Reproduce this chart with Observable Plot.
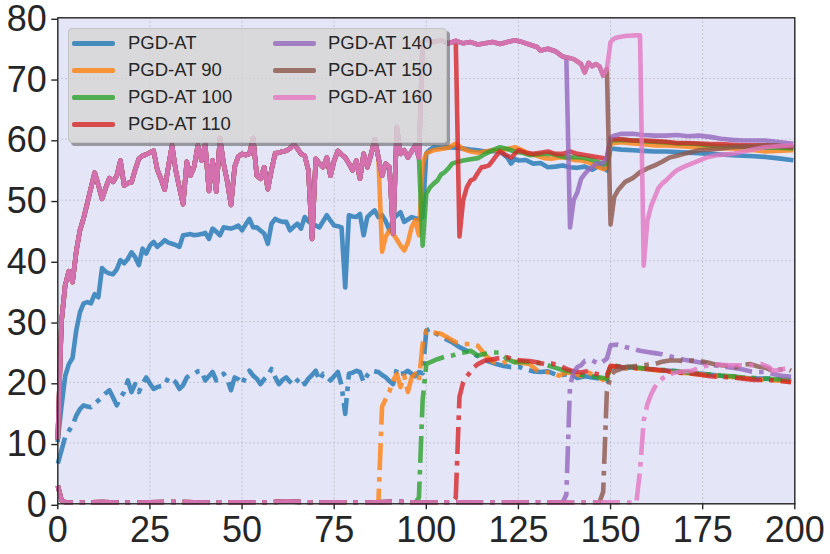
<!DOCTYPE html>
<html>
<head>
<meta charset="utf-8">
<script src="https://cdn.jsdelivr.net/npm/d3@7"></script>
<script src="https://cdn.jsdelivr.net/npm/@observablehq/plot@0.6"></script>
<style>
  body { margin: 0; background: #fff; }
  #wrap { position: relative; width: 830px; height: 554px; font-family: "Liberation Sans", Arial, sans-serif; }
  #legend { position: absolute; left: 68px; top: 28px; width: 379px; height: 115px; box-sizing: border-box;
    background: rgba(214,214,214,0.82); border: 1px solid #c4c4c4; border-radius: 4px;
    box-shadow: 3px 3px 0 rgba(90,90,90,0.55); }
  .handle { width: 43px; height: 5px; border-radius: 2px; opacity: 0.8; }
  .lab { position: absolute; font-size: 18.5px; color: #262626; white-space: nowrap; }
</style>
</head>
<body>
<div id="wrap"><div id="chart"></div><div id="legend"></div></div>
<script>
// ---------- data ----------
const names = ["PGD-AT", "PGD-AT 90", "PGD-AT 100", "PGD-AT 110", "PGD-AT 140", "PGD-AT 150", "PGD-AT 160"];
const colors = ["#1f77b4", "#ff7f0e", "#2ca02c", "#d62728", "#9467bd", "#8c564b", "#e377c2"];
const xTicks = [0, 25, 50, 75, 100, 125, 150, 175, 200];
const yTicks = [0, 10, 20, 30, 40, 50, 60, 70, 80];

// PGD-AT (baseline), clean accuracy, epochs 0..99 (dense)
const baseAccEarly = [
  10.5, 16.0, 21.0, 23.0, 24.0, 28.5, 31.5, 33.0, 33.2, 33.0,
  34.5, 34.0, 38.8, 38.2, 37.9, 37.8, 38.6, 40.1, 39.6, 40.3,
  41.4, 40.6, 39.3, 42.0, 41.2, 42.5, 43.1, 42.3, 42.8, 43.4,
  43.0, 42.8, 42.6, 42.3, 44.2, 44.3, 44.4, 44.2, 44.3, 44.4,
  44.6, 43.6, 45.3, 44.8, 44.2, 45.5, 45.4, 45.3, 45.5, 45.8,
  45.0, 46.0, 46.9, 45.5, 45.5, 45.0, 44.5, 42.8, 46.1, 46.9,
  46.6, 46.4, 46.4, 45.0, 45.6, 46.1, 45.3, 47.2, 46.5, 46.1,
  45.8, 45.5, 46.5, 47.5, 46.6, 45.8, 45.7, 45.5, 35.6, 47.5,
  47.3, 47.2, 47.7, 44.2, 47.2, 47.8, 48.3, 47.2, 47.5, 46.5,
  45.0, 46.9, 47.5, 48.0, 46.4, 46.8, 47.2, 47.0, 46.9, 47.2];
const baseAccLateX = [100,101,102,104,106,108,110,112,114,116,118,120,121,122,123,124,125,127,129,131,133,135,137,139,141,143,145,147,149,150,153,156,159,162,165,168,171,174,177,180,183,186,189,192,195,199];
const baseAccLateY = [57.7,58.3,58.7,58.6,58.7,58.6,58.5,58.3,58.2,58.0,58.1,58.0,57.5,57.0,56.0,56.8,56.5,56.6,56.0,56.1,55.4,55.5,55.7,55.4,55.3,55.5,55.0,55.7,54.9,58.5,58.3,58.2,58.1,58.0,58.0,57.9,57.8,57.7,57.6,57.5,57.4,57.3,57.2,57.1,56.9,56.6];

// PGD-AT (baseline), robust accuracy, epochs 0..99 (dense)
const baseRobEarly = [
  6.6, 8.8, 11.0, 12.0, 12.9, 14.5, 15.6, 16.2, 16.0, 15.9,
  16.5, 17.0, 17.6, 18.2, 18.7, 17.5, 16.2, 17.5, 18.4, 20.3,
  18.4, 19.7, 18.4, 19.8, 20.8, 19.8, 18.9, 19.2, 19.4, 19.5,
  20.8, 20.5, 20.0, 18.9, 19.5, 20.8, 21.2, 21.4, 21.8, 21.9,
  20.3, 21.0, 21.7, 20.3, 20.9, 21.4, 20.5, 18.7, 20.8, 20.5,
  19.7, 21.0, 21.9, 21.1, 20.6, 19.7, 20.5, 21.1, 22.2, 20.8,
  19.7, 20.4, 20.8, 20.1, 19.5, 20.3, 20.8, 19.7, 20.6, 21.2,
  21.9, 20.3, 21.4, 20.9, 20.3, 21.0, 21.7, 19.5, 14.8, 21.4,
  21.6, 21.9, 21.7, 20.0, 21.2, 21.9, 21.8, 21.7, 21.2, 20.8,
  20.2, 19.7, 22.2, 21.4, 21.5, 21.9, 21.4, 21.0, 21.7, 21.5];
const baseRobLateX = [100,101,102,103,104,105,107,109,111,113,115,117,119,121,123,125,127,129,131,133,135,137,139,141,143,145,147,149,150,152,154,156,158,160,163,166,169,172,175,178,181,184,187,190,193,196,199];
const baseRobLateY = [28.5,28.8,28.2,27.9,27.6,27.2,26.6,25.8,25.2,24.6,24.0,23.4,23.0,22.7,22.5,22.6,22.1,21.8,21.7,21.8,21.3,21.2,21.4,20.7,21.0,20.8,20.6,20.3,22.4,22.6,22.3,22.5,22.2,22.3,22.0,21.9,21.8,21.5,21.4,21.2,21.0,20.9,20.7,20.6,20.6,20.5,20.3];

// Shared run (before each restart), clean accuracy: epochs 0..98 dense, then plateau
const sharedAccEarly = [
  11.0, 30.0, 36.0, 38.3, 36.5, 41.5, 45.0, 47.0, 49.5, 52.0,
  54.5, 52.5, 50.2, 52.0, 53.6, 53.0, 54.0, 56.5, 52.4, 52.8,
  52.9, 55.0, 56.8, 57.3, 57.5, 57.8, 58.1, 55.0, 53.5, 51.7,
  55.5, 59.0, 54.9, 52.0, 49.3, 56.3, 54.0, 55.5, 59.0, 56.5,
  59.2, 51.5, 56.5, 51.4, 60.2, 56.0, 53.0, 49.2, 55.5, 57.2,
  57.6, 57.4, 57.6, 60.2, 54.0, 53.5, 55.4, 51.8, 55.0, 57.7,
  57.8, 58.0, 58.1, 58.5, 59.2, 58.5, 57.6, 57.3, 54.9, 43.6,
  56.8, 56.0, 55.4, 57.0, 54.0, 56.5, 58.1, 57.5, 57.0, 56.0,
  54.9, 56.5, 53.5, 57.6, 55.4, 57.5, 60.0, 57.0, 54.0, 56.0,
  55.4, 44.5, 62.0, 57.6, 58.2, 57.0, 58.0, 59.0, 57.0];
const sharedAccLateX = [99,100,102,104,106,108,110,112,114,116,118,120,122,124,126,128,130,131,133,135,137,138,140,141,142,143,144,145,146,147,148,149,150,151,152,154,156,158];
const sharedAccLateY = [76.0,76.5,76.0,76.3,75.8,76.2,75.8,76.0,75.6,75.8,76.0,75.7,76.0,76.3,76.0,75.6,75.2,74.6,74.9,74.5,73.6,73.5,73.2,72.8,72.4,71.0,72.6,72.0,72.4,72.0,70.5,71.6,76.0,76.6,76.8,77.0,77.1,77.1];

// Shared run, robust accuracy (collapsed near 0)
const sharedRobX = [0,1,2,6,12,18,25,32,40,48,55,62,70,78,85,87,92,97,100,107,110,120,130,137,140,147,150,157];
const sharedRobY = [3.0,0.6,0.25,0.2,0.3,0.2,0.25,0.3,0.2,0.25,0.2,0.4,0.2,0.25,0.2,0.25,0.35,0.2,0.2,0.25,0.25,0.2,0.25,0.2,0.2,0.25,0.25,0.2];

// Restarted runs: clean accuracy tails
const acc90X = [88,89,90,91,92,93,94,95,96,97,98,99,100,102,104,106,108,110,112,114,116,118,120,122,124,126,128,130,132,134,136,138,140,142,144,146,148,149,150,153,156,159,162,165,168,171,174,177,180,183,186,189,192,195,199];
const acc90Y = [41.5,44.0,45.0,44.4,43.5,42.5,41.7,43.0,45.5,46.7,44.2,56.0,57.7,58.2,58.4,58.6,59.3,58.4,58.0,57.8,58.0,58.2,58.2,58.4,58.7,58.2,57.6,57.3,56.9,56.8,57.0,57.0,56.6,56.5,56.2,55.6,55.1,55.3,59.3,59.5,59.3,59.2,59.0,59.0,58.9,58.8,58.7,58.6,58.5,58.5,58.3,58.2,58.0,58.1,58.2];
const acc100X = [99,100,101,102,103,104,105,106,107,108,110,112,114,116,118,120,122,124,126,128,130,132,134,136,138,140,142,144,146,148,149,150,153,156,159,162,165,168,171,174,177,180,183,186,189,192,195,199];
const acc100Y = [42.5,51.0,52.1,52.7,53.2,54.2,54.6,55.2,56.0,56.2,56.5,56.7,56.9,57.6,58.2,58.7,58.4,58.0,57.8,57.4,57.5,57.6,57.6,57.3,57.0,57.1,57.0,56.8,56.4,56.0,56.0,59.8,59.9,59.8,59.7,59.6,59.5,59.3,59.3,59.2,59.0,58.9,58.9,58.8,58.7,58.6,58.6,58.5];
const acc110X = [109,110,111,112,113,114,115,116,117,118,119,120,121,122,123,124,125,127,129,131,133,135,137,139,141,143,145,147,149,150,153,156,159,162,165,168,171,174,177,180,183,186,189,192,195,199];
const acc110Y = [44.0,50.0,52.1,53.2,53.5,54.5,55.4,55.5,55.7,56.5,57.3,58.0,57.6,57.3,57.0,57.6,58.2,57.8,57.6,57.8,58.0,57.6,57.6,58.0,57.6,57.4,57.2,57.0,56.8,60.0,60.0,59.8,59.8,59.7,59.6,59.4,59.4,59.3,59.2,59.2,59.1,59.0,59.0,59.0,58.9,58.8];
const acc140X = [139,140,141,142,143,144,145,146,147,148,149,150,151,153,156,159,162,165,168,171,174,177,180,183,186,189,192,195,199];
const acc140Y = [45.5,50.0,51.3,53.5,54.3,55.0,55.4,56.0,56.0,56.1,57.0,60.3,60.6,60.9,60.9,60.7,60.6,60.6,60.7,60.5,60.6,60.4,60.1,59.9,59.8,59.8,59.8,59.6,59.3];
const acc150X = [150,151,152,153,154,156,158,160,162,164,166,168,170,172,174,177,180,183,186,189,192,195,199];
const acc150Y = [46.0,50.5,51.6,52.3,53.0,53.6,54.6,55.2,55.7,56.3,57.0,57.3,57.6,57.9,58.2,58.3,58.5,58.7,58.8,58.9,59.0,59.0,58.7];
const acc160X = [159,160,161,162,163,164,165,166,167,168,170,172,174,176,179,183,187,192,196,199];
const acc160Y = [39.2,46.6,49.0,50.5,52.0,52.7,53.2,53.8,54.4,54.9,55.5,56.0,56.5,57.0,57.4,57.6,58.1,58.7,58.9,59.0];

// Restarted runs: robust accuracy tails
const rob90X = [88,89,90,91,92,93,94,95,96,97,98,99,100,101,102,104,106,108,110,112,114,116,118,120,122,124,126,128,130,132,134,136,138,140,142,144,146,148,149,150,153,156,159,162,165,168,171,174,177,180,183,186,189,192,195,199];
const rob90Y = [16.0,17.3,18.5,20.3,21.4,19.2,21.1,18.4,20.8,21.4,20.3,26.3,28.5,28.3,28.2,28.0,27.3,26.6,26.3,26.3,26.0,24.5,23.4,23.0,23.5,23.4,23.2,23.0,22.0,21.7,21.6,21.1,21.6,21.5,21.0,21.6,21.0,20.4,20.8,22.6,22.4,22.2,22.3,22.0,21.8,21.6,21.5,21.3,21.1,21.0,20.9,20.7,20.5,20.4,20.3,20.1];
const rob100X = [98,99,100,101,103,105,107,109,111,112,114,116,118,120,122,124,126,128,130,132,134,136,138,140,142,144,146,148,149,150,153,156,159,162,165,168,171,174,177,180,183,186,189,192,195,199];
const rob100Y = [1.0,17.0,23.0,23.3,23.8,24.2,24.4,24.8,25.0,25.2,24.4,24.7,24.9,24.9,23.8,23.3,23.4,23.3,23.2,23.0,22.6,22.2,21.9,21.7,21.2,21.1,20.9,20.7,20.6,22.8,22.6,22.5,22.3,22.1,22.0,21.8,21.6,21.4,21.3,21.1,21.0,20.8,20.7,20.6,20.5,20.4];
const rob110X = [108,109,110,111,112,113,114,116,118,120,122,124,126,128,130,132,134,136,138,140,142,144,146,148,149,150,153,156,159,162,165,168,171,174,177,180,183,186,189,192,195,199];
const rob110Y = [1.0,17.6,20.0,21.0,21.7,22.5,23.0,23.6,23.8,24.0,24.1,23.7,23.6,23.5,23.3,23.0,23.1,22.8,22.2,21.8,21.6,21.9,21.4,21.2,21.1,22.7,22.5,22.4,22.2,22.1,21.9,21.6,21.5,21.3,21.0,20.9,20.8,20.6,20.4,20.4,20.3,20.0];
const rob140X = [138,139,140,141,142,143,145,147,149,150,152,154,156,158,160,162,164,166,168,170,172,174,176,178,180,182,184,186,188,190,192,194,196,199];
const rob140Y = [1.5,19.5,21.7,22.5,22.8,23.5,23.6,23.0,23.9,26.1,26.2,25.8,25.5,25.2,25.0,24.8,24.6,24.3,24.0,23.7,23.5,23.3,23.1,22.8,22.6,22.5,22.3,22.1,21.8,21.7,21.7,21.4,21.1,20.9];
const rob150X = [148,149,150,151,152,154,156,158,160,162,164,166,168,170,172,174,176,178,180,182,184,186,188,190,192,194,196,198,199];
const rob150Y = [2.0,18.5,21.0,21.8,22.0,22.5,22.6,22.8,22.9,23.0,23.4,23.6,23.6,23.5,23.6,23.5,23.3,23.0,22.8,22.7,22.5,22.9,23.0,22.6,22.4,21.9,22.1,22.2,21.9];
const rob160X = [158,159,160,161,162,163,164,165,166,167,168,170,172,174,176,178,180,182,185,188,191,193,194,196,197,199];
const rob160Y = [5.5,13.7,16.4,18.0,19.2,20.0,20.6,21.0,21.3,21.5,21.7,21.8,21.9,22.4,22.7,23.0,22.9,22.8,22.8,22.8,23.0,22.5,21.9,22.0,22.2,22.5];

// ---------- assemble ----------
const zip = (xs, ys) => xs.map((x, i) => ({epoch: x, value: ys[i]}));
const dense = (start, ys) => ys.map((v, i) => ({epoch: start + i, value: v}));

const sharedAcc = dense(0, sharedAccEarly).concat(zip(sharedAccLateX, sharedAccLateY));
const sharedRob = zip(sharedRobX, sharedRobY);
const withPrefix = (shared, tail) => shared.filter(d => d.epoch < tail[0].epoch).concat(tail);

const accSeries = [
  dense(0, baseAccEarly).concat(zip(baseAccLateX, baseAccLateY)),
  withPrefix(sharedAcc, zip(acc90X, acc90Y)),
  withPrefix(sharedAcc, zip(acc100X, acc100Y)),
  withPrefix(sharedAcc, zip(acc110X, acc110Y)),
  withPrefix(sharedAcc, zip(acc140X, acc140Y)),
  withPrefix(sharedAcc, zip(acc150X, acc150Y)),
  withPrefix(sharedAcc, zip(acc160X, acc160Y))
];
const robSeries = [
  dense(0, baseRobEarly).concat(zip(baseRobLateX, baseRobLateY)),
  withPrefix(sharedRob, zip(rob90X, rob90Y)),
  withPrefix(sharedRob, zip(rob100X, rob100Y)),
  withPrefix(sharedRob, zip(rob110X, rob110Y)),
  withPrefix(sharedRob, zip(rob140X, rob140Y)),
  withPrefix(sharedRob, zip(rob150X, rob150Y)),
  withPrefix(sharedRob, zip(rob160X, rob160Y))
];

const lw = 4.6;
const lineMarks = [];
names.forEach((n, i) => {
  lineMarks.push(Plot.line(accSeries[i], {x: "epoch", y: "value", stroke: colors[i], strokeWidth: lw, strokeOpacity: 0.8, strokeLinejoin: "round", strokeLinecap: "square"}));
  lineMarks.push(Plot.line(robSeries[i], {x: "epoch", y: "value", stroke: colors[i], strokeWidth: lw, strokeOpacity: 0.8, strokeLinejoin: "round", strokeLinecap: "butt", strokeDasharray: "27,7,4.6,7"}));
});

const chart = Plot.plot({
  width: 830, height: 554,
  marginLeft: 57.3, marginRight: 35.7, marginTop: 17.3, marginBottom: 50.7,
  style: {fontFamily: "'Liberation Sans', Arial, sans-serif", color: "#262626", background: "#fff", overflow: "visible"},
  x: {domain: [0, 200]},
  y: {domain: [0, 80]},
  marks: [
    Plot.frame({fill: "#e5e5f8", stroke: null}),
    Plot.gridX(xTicks, {stroke: "#b4b4be", strokeOpacity: 1, strokeWidth: 0.9, strokeDasharray: "1.5,2.5"}),
    Plot.gridY(yTicks, {stroke: "#b4b4be", strokeOpacity: 1, strokeWidth: 0.9, strokeDasharray: "1.5,2.5"}),
    ...lineMarks,
    Plot.frame({stroke: "#262626", strokeWidth: 1.4}),
    Plot.axisX(xTicks, {tickSize: 6, tickPadding: 7, fontSize: 36, label: null, strokeWidth: 1.4}),
    Plot.axisY(yTicks, {tickSize: 6, tickPadding: 5, fontSize: 36, label: null, strokeWidth: 1.4, dy: 1.5})
  ]
});
document.getElementById("chart").appendChild(chart);

// ---------- legend ----------
const legend = document.getElementById("legend");
const rowY = [14, 41, 68, 95];
names.forEach((n, i) => {
  const col = i < 4 ? 0 : 1;
  const row = i < 4 ? i : i - 4;
  const hx = col === 0 ? 3 : 204;
  const tx = col === 0 ? 59 : 259;
  const h = document.createElement("div");
  h.className = "handle";
  h.style.cssText = `position:absolute;left:${hx}px;top:${rowY[row] - 2.5}px;background:${colors[i]}`;
  legend.appendChild(h);
  const t = document.createElement("div");
  t.className = "lab";
  t.textContent = n;
  t.style.left = tx + "px";
  t.style.top = (rowY[row] - 11) + "px";
  legend.appendChild(t);
});
</script>
</body>
</html>
